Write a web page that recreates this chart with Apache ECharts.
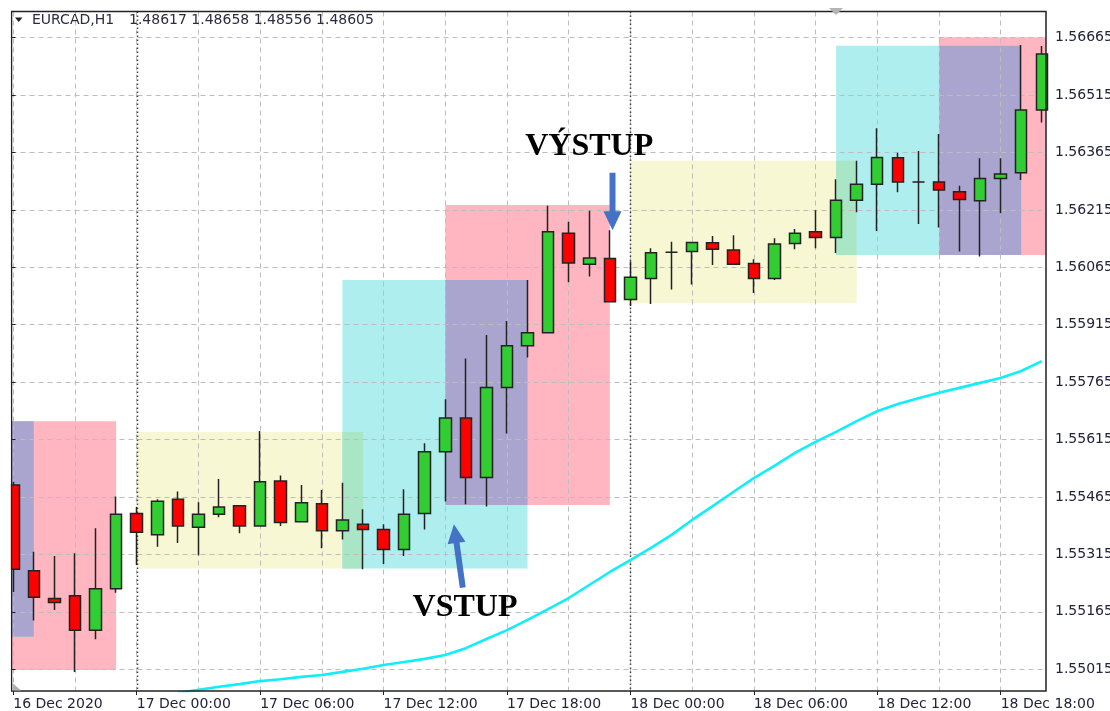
<!DOCTYPE html>
<html>
<head>
<meta charset="utf-8">
<script src="https://cdn.jsdelivr.net/npm/echarts@6/dist/echarts.min.js"></script>
<style>html,body{margin:0;padding:0;background:#fff}#c{width:1110px;height:711px}</style>
</head>
<body>
<div id="c"></div>
<script>
// EURCAD H1 bars, index 0 = 16 Dec 2020 18:00, one bar per hour
const opens  = [1.55496,1.55272,1.55200,1.55207,1.55117,1.55225,1.55422,1.55366,1.55459,1.55386,
                1.55420,1.55442,1.55389,1.55507,1.55400,1.55447,1.55377,1.55394,1.55380,1.55328,
                1.55422,1.55583,1.55671,1.55516,1.55751,1.55860,1.55894,1.56154,1.56073,1.56088,
                1.55981,1.56036,1.56104,1.56106,1.56129,1.56110,1.56075,1.56036,1.56127,1.56158,
                1.56143,1.56240,1.56282,1.56351,1.56288,1.56288,1.56262,1.56239,1.56297,1.56312,
                1.56476];
const highs  = [1.55505,1.55322,1.55311,1.55318,1.55383,1.55466,1.55439,1.55459,1.55479,1.55451,
                1.55512,1.55444,1.55637,1.55521,1.55496,1.55483,1.55502,1.55433,1.55394,1.55485,
                1.55605,1.55720,1.55827,1.55888,1.55925,1.56032,1.56226,1.56184,1.56213,1.56162,
                1.56081,1.56115,1.56132,1.56131,1.56147,1.56149,1.56086,1.56141,1.56165,1.56214,
                1.56295,1.56343,1.56428,1.56364,1.56369,1.56413,1.56278,1.56350,1.56350,1.56646,
                1.56643];
const lows   = [1.55217,1.55142,1.55170,1.55008,1.55093,1.55215,1.55287,1.55335,1.55345,1.55313,
                1.55412,1.55370,1.55388,1.55389,1.55399,1.55331,1.55354,1.55276,1.55290,1.55311,
                1.55380,1.55453,1.55446,1.55440,1.55631,1.55829,1.55893,1.56026,1.56041,1.55974,
                1.55964,1.55969,1.56007,1.56020,1.56071,1.56071,1.55998,1.56032,1.56112,1.56115,
                1.56102,1.56209,1.56160,1.56261,1.56178,1.56169,1.56106,1.56093,1.56206,1.56293,
                1.56443];
const closes = [1.55276,1.55203,1.55189,1.55117,1.55225,1.55420,1.55373,1.55454,1.55389,1.55420,
                1.55439,1.55389,1.55505,1.55398,1.55450,1.55377,1.55405,1.55380,1.55328,1.55420,
                1.55583,1.55671,1.55516,1.55751,1.55860,1.55894,1.56158,1.56076,1.56089,1.55975,
                1.56039,1.56103,1.56104,1.56130,1.56112,1.56073,1.56036,1.56126,1.56154,1.56143,
                1.56240,1.56282,1.56352,1.56288,1.56288,1.56267,1.56242,1.56297,1.56309,1.56476,
                1.56622];

// moving average (cyan), starting at bar index maStart
const maStart = 8;
const maValues = [1.54953,1.54961,1.54969,1.54976,1.54984,1.54989,1.54995,1.55000,1.55008,1.55016,
                  1.55026,1.55034,1.55042,1.55052,1.55070,1.55094,1.55117,1.55144,1.55172,1.55201,
                  1.55235,1.55269,1.55300,1.55332,1.55366,1.55405,1.55441,1.55478,1.55514,1.55546,
                  1.55580,1.55609,1.55635,1.55663,1.55689,1.55708,1.55723,1.55737,1.55750,1.55763,
                  1.55776,1.55794,1.55820];

// session rectangles (bar index from/to, price high/low, kind)
const boxKinds = ['pink','cyan','yellow','cyan','pink','yellow','cyan','pink'];
const boxStart = [-3, -8, 6, 16, 21, 30, 40, 45];
const boxEnd   = [5, 1, 17, 25, 29, 41, 49, 53];
const boxHigh  = [1.55663,1.55663,1.55635,1.56032,1.56228,1.56343,1.56644,1.56666];
const boxLow   = [1.55013,1.55100,1.55278,1.55278,1.55444,1.55972,1.56097,1.56097];

// day separators (bar index of 00:00)
const daySeparators = [6, 30];

// axis ticks
const yTicks = [1.55015,1.55165,1.55315,1.55465,1.55615,1.55765,1.55915,1.56065,1.56215,1.56365,1.56515,1.56665];
const xTickLabels = ['16 Dec 2020','17 Dec 00:00','17 Dec 06:00','17 Dec 12:00','17 Dec 18:00',
                     '18 Dec 00:00','18 Dec 06:00','18 Dec 12:00','18 Dec 18:00'];
const xTickStep = 6;

// annotations
const annText  = ['VÝSTUP', 'VSTUP'];
const annTextX = [28.0, 21.96];
const annTextY = [1.56381, 1.55176];
const annTipX  = [29.13, 21.42];
const annTipY  = [1.56162, 1.55394];
const annTailX = [29.13, 21.85];
const annTailY = [1.56312, 1.55228];

const headerName = 'EURCAD,H1';
const headerValues = '1.48617 1.48658 1.48556 1.48605';

// ---- layout ----
const W = 1110, H = 711;
const plotLeft = 11.5, plotRight = 1046, plotTop = 11.5, plotBottom = 691;
const xMin = -0.0875, xMax = 50.204;
const yMin = 1.549581, yMax = 1.567332;
const pxX = v => plotLeft + (v - xMin) / (xMax - xMin) * (plotRight - plotLeft);
const pxY = v => plotTop + (yMax - v) / (yMax - yMin) * (plotBottom - plotTop);

const colors = {pink:'#FFB6C1', cyan:'#AFEEEE', yellow:'#F7F7D4'};
const overlapColors = {'pink|cyan':'#AAA5CF','cyan|pink':'#AAA5CF','yellow|cyan':'#A9E6C6','cyan|yellow':'#A9E6C6'};

const rects = [], rectColors = [];
boxKinds.forEach((k,i) => { rects.push([boxStart[i], boxEnd[i], boxHigh[i], boxLow[i]]); rectColors.push(colors[k]); });
for (let i = 0; i < boxKinds.length; i++) for (let j = i+1; j < boxKinds.length; j++) {
  const key = boxKinds[i] + '|' + boxKinds[j];
  if (!overlapColors[key]) continue;
  const s = Math.max(boxStart[i], boxStart[j]), e = Math.min(boxEnd[i], boxEnd[j]);
  const hi = Math.min(boxHigh[i], boxHigh[j]), lo = Math.max(boxLow[i], boxLow[j]);
  if (s < e && lo < hi) { rects.push([s, e, hi, lo]); rectColors.push(overlapColors[key]); }
}

const candleData = opens.map((o,i) => [i, o, closes[i], lows[i], highs[i]]);
const maData = maValues.map((v,i) => [maStart + i, v]);
const annData = annText.map((t,i) => [annTipX[i], annTipY[i]]);

const gridLine = {show:true, lineStyle:{color:'#bdbdbd', width:1, type:[5,4]}};
const labelFont = {fontFamily:'DejaVu Sans', fontSize:14, color:'#23233a'};

const option = {
  animation: false,
  backgroundColor: '#ffffff',
  grid: [
    {left: plotLeft, right: W - plotRight, top: plotTop, bottom: H - plotBottom, show: true,
     borderColor: '#222', borderWidth: 1.5, backgroundColor: 'transparent', z: 10,
     containLabel: false, outerBoundsMode: 'none'},
    {left: plotLeft, right: W - plotRight, top: pxY(yTicks[yTicks.length-1]), bottom: H - pxY(yTicks[0]),
     containLabel: false, outerBoundsMode: 'none'},
    {left: pxX(0), right: W - pxX(xTickStep * (xTickLabels.length-1)), top: plotTop, bottom: H - plotBottom,
     containLabel: false, outerBoundsMode: 'none'}
  ],
  xAxis: [
    {gridIndex:0, type:'value', min:xMin, max:xMax, show:false},
    {gridIndex:1, type:'value', min:0, max:1, show:false},
    {gridIndex:2, type:'value', min:0, max:xTickStep*(xTickLabels.length-1), interval:xTickStep, z:2,
     position:'bottom',
     axisLine:{show:false},
     axisTick:{show:true, length:4, lineStyle:{color:'#222', width:1}},
     axisLabel:Object.assign({show:true, align:'left', margin:6,
       formatter: v => xTickLabels[Math.round(v / xTickStep)] || ''}, labelFont),
     splitLine: gridLine,
     minorTick:{show:false, splitNumber:2},
     minorSplitLine: gridLine}
  ],
  yAxis: [
    {gridIndex:0, type:'value', min:yMin, max:yMax, show:false},
    {gridIndex:1, type:'value', position:'right', min:yTicks[0], max:yTicks[yTicks.length-1],
     interval: +(yTicks[1]-yTicks[0]).toFixed(5), z:2,
     axisLine:{show:false},
     axisTick:{show:true, length:4, lineStyle:{color:'#222', width:1}},
     axisLabel:Object.assign({show:true, margin:9, formatter: v => v.toFixed(5)}, labelFont),
     splitLine: gridLine},
    {gridIndex:2, type:'value', min:0, max:1, show:false}
  ],
  series: [
    {type:'custom', name:'sessions', xAxisIndex:0, yAxisIndex:0, z:1, silent:true,
     data: rects,
     renderItem: (params, api) => {
       const p1 = api.coord([api.value(0), api.value(2)]);
       const p2 = api.coord([api.value(1), api.value(3)]);
       const cs = params.coordSys;
       const r = echarts.graphic.clipRectByRect(
         {x:p1[0], y:p1[1], width:p2[0]-p1[0], height:p2[1]-p1[1]},
         {x:cs.x, y:cs.y, width:cs.width, height:cs.height});
       if (!r) return null;
       return {type:'rect', shape:r, style:{fill:rectColors[params.dataIndex]}};
     }},
    {type:'custom', name:'days', xAxisIndex:0, yAxisIndex:0, z:3, silent:true,
     data: daySeparators.map(d => [d]),
     renderItem: (params, api) => {
       const x = Math.round(api.coord([api.value(0), yMin])[0]) + 0.5;
       const cs = params.coordSys;
       return {type:'line', shape:{x1:x, y1:cs.y, x2:x, y2:cs.y+cs.height},
               style:{stroke:'#444', lineWidth:1.5, lineDash:[1.5,2.5]}};
     }},
    {type:'line', name:'MA', xAxisIndex:0, yAxisIndex:0, z:4, data: maData,
     showSymbol:false, symbol:'none', clip:true,
     lineStyle:{color:'#10EEF8', width:2.6}},
    {type:'candlestick', name:'EURCAD', xAxisIndex:0, yAxisIndex:0, z:5, clip:true,
     data: candleData, encode:{x:0, y:[1,2,3,4]}, barWidth:12,
     itemStyle:{color:'#32CD32', color0:'#FF0000', borderColor:'#222', borderColor0:'#222', borderWidth:1.5}},
    {type:'custom', name:'annotations', xAxisIndex:0, yAxisIndex:0, z:6, silent:true,
     data: annData,
     renderItem: (params, api) => {
       const i = params.dataIndex;
       const tip = api.coord([annTipX[i], annTipY[i]]);
       const tail = api.coord([annTailX[i], annTailY[i]]);
       const dx = tip[0]-tail[0], dy = tip[1]-tail[1], len = Math.hypot(dx,dy);
       const ux = dx/len, uy = dy/len, px = -uy, py = ux;
       const headLen = 19, headW = 9, shaftW = 3;
       const bx = tip[0]-ux*headLen, by = tip[1]-uy*headLen;
       const pts = [[tail[0]+px*shaftW, tail[1]+py*shaftW],[bx+px*shaftW, by+py*shaftW],
                    [bx+px*headW, by+py*headW], tip, [bx-px*headW, by-py*headW],
                    [bx-px*shaftW, by-py*shaftW],[tail[0]-px*shaftW, tail[1]-py*shaftW]];
       const t = api.coord([annTextX[i], annTextY[i]]);
       return {type:'group', children:[
         {type:'polygon', shape:{points:pts}, style:{fill:'#4472C4'}},
         {type:'text', x:t[0], y:t[1], style:{text:annText[i], fill:'#000',
           font:'bold 32px "Liberation Serif", "Times New Roman", serif', align:'center', verticalAlign:'middle'}}
       ]};
     }}
  ],
  graphic: [
    // white margin left of the plot frame (hides the part of the first candle outside the plot)
    {type:'rect', shape:{x:0, y:0, width:10.8, height:H}, style:{fill:'#ffffff'}, z:15},
    {type:'polygon', shape:{points:[[15,17.5],[22.5,17.5],[18.75,22]]}, style:{fill:'#222'}, z:20},
    {type:'text', x:32, y:20, style:{text:headerName, font:'14px "DejaVu Sans"', fill:'#2b2b44', verticalAlign:'middle'}, z:20},
    {type:'text', x:129, y:20, style:{text:headerValues, font:'14px "DejaVu Sans"', fill:'#2b2b44', verticalAlign:'middle'}, z:20},
    {type:'polygon', shape:{points:[[829,8],[843,8],[836,15]]}, style:{fill:'#b4b4b4'}, z:20},
    {type:'polygon', shape:{points:[[12.5,683],[12.5,690.5],[21,690.5]]}, style:{fill:'#b0b0b0'}, z:20}
  ]
};

const chart = echarts.init(document.getElementById('c'), null, {renderer:'canvas'});
chart.setOption(option);
</script>
</body>
</html>
